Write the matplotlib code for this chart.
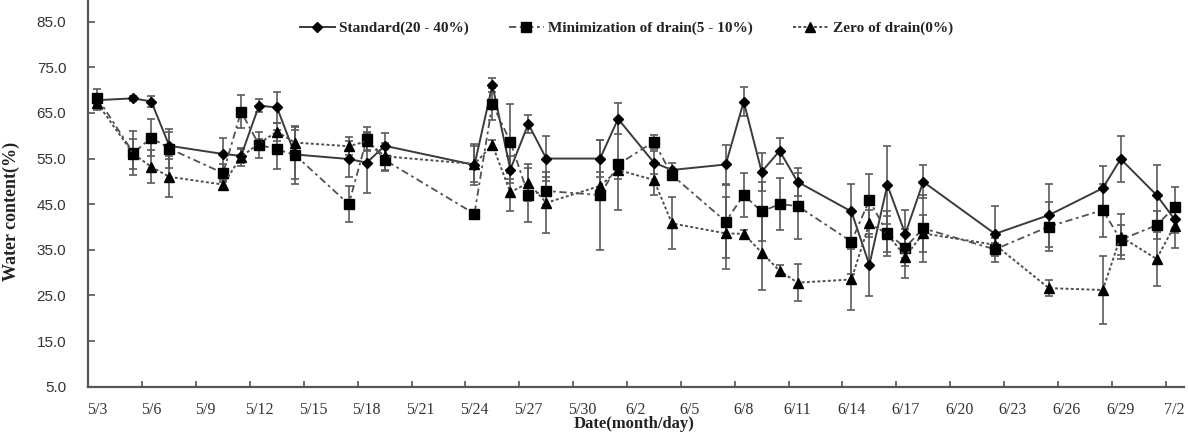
import matplotlib
matplotlib.use('Agg')
import matplotlib.pyplot as plt
import pandas as pd

# ---------------- data ----------------
dates = ["5/3", "5/5", "5/6", "5/7", "5/10", "5/11", "5/12", "5/13", "5/14",
         "5/17", "5/18", "5/19", "5/24", "5/25", "5/26", "5/27", "5/28", "5/31",
         "6/1", "6/3", "6/4", "6/7", "6/8", "6/9", "6/10", "6/11", "6/14",
         "6/15", "6/16", "6/17", "6/18", "6/22", "6/25", "6/28", "6/29", "7/1", "7/2"]

standard = [67.8, 68.2, 67.5, 57.8, 56.0, 55.6, 66.6, 66.2, 55.9, 54.9, 54.1, 57.8,
            53.6, 71.1, 52.6, 62.6, 55.0, 55.0, 63.7, 54.1, 52.5, 53.7, 67.5, 52.1,
            56.7, 49.9, 43.4, 31.7, 49.2, 38.5, 49.9, 38.5, 42.6, 48.5, 54.9, 47.0, 41.7]
standard_err = [1.0, 0.5, 1.3, 3.0, 3.6, 1.5, 1.5, 3.3, 5.3, 3.9, 6.6, 2.8, 4.5, 1.5,
                3.0, 2.0, 5.0, 4.0, 3.4, 2.5, 1.5, 4.2, 3.1, 4.2, 2.8, 3.1, 6.1, 6.8,
                8.6, 5.3, 3.6, 6.2, 6.9, 4.9, 5.1, 6.6, 3.0]

minimization = [68.3, 56.2, 59.6, 57.2, 51.8, 65.3, 58.0, 57.0, 55.8, 45.0, 59.3, 54.7,
                42.9, 67.0, 58.7, 47.0, 47.9, 47.0, 53.7, 58.7, 51.4, 41.2, 47.0, 43.4,
                45.0, 44.6, 36.8, 45.9, 38.6, 35.5, 39.7, 35.1, 40.1, 43.7, 37.2, 40.4, 44.3]
minimization_err = [2.0, 4.8, 4.1, 4.2, 2.0, 3.6, 2.9, 4.2, 6.3, 4.0, 2.7, 2.4, 0.5, 3.5,
                    8.2, 6.0, 3.0, 12.0, 10.0, 1.5, 1.0, 8.0, 4.9, 6.5, 5.7, 7.2, 7.0,
                    5.7, 5.0, 4.0, 7.3, 1.5, 5.3, 5.8, 3.3, 3.0, 4.5]

zero = [67.1, 56.0, 53.2, 51.0, 49.3, 55.4, 58.3, 60.9, 58.5, 57.7, 58.8, 55.5,
        53.8, 58.0, 47.6, 49.7, 45.3, 49.0, 52.5, 50.3, 40.8, 38.6, 38.5, 34.4,
        30.4, 27.8, 28.5, 40.8, 38.5, 33.5, 38.6, 36.1, 26.6, 26.2, 37.9, 33.0, 40.3]
zero_err = [1.5, 3.3, 3.6, 4.5, 1.0, 2.0, 1.0, 2.0, 3.5, 2.0, 2.0, 3.0, 4.0, 1.0,
            4.2, 4.0, 6.7, 3.0, 2.0, 3.3, 5.7, 7.9, 0.8, 8.3, 1.2, 4.0, 6.6, 3.0,
            4.0, 4.7, 4.0, 1.5, 1.8, 7.4, 5.0, 6.0, 5.0]

tick_labels = ["5/3", "5/6", "5/9", "5/12", "5/15", "5/18", "5/21", "5/24", "5/27",
               "5/30", "6/2", "6/5", "6/8", "6/11", "6/14", "6/17", "6/20", "6/23",
               "6/26", "6/29", "7/2"]
y_ticks = [5.0, 15.0, 25.0, 35.0, 45.0, 55.0, 65.0, 75.0, 85.0]

series_names = ["Standard(20 - 40%)", "Minimization of drain(5 - 10%)", "Zero of drain(0%)"]

# ---------------- helpers ----------------
start = pd.Timestamp(2000, 5, 3)


def day_index(s):
    m, d = (int(v) for v in s.split('/'))
    return (pd.Timestamp(2000, m, d) - start).days


x = [day_index(s) for s in dates]
tick_pos = [day_index(s) for s in tick_labels]

W, H = 1188, 433
fig = plt.figure(figsize=(W / 100, H / 100), dpi=100)
ax = fig.add_axes([88.5 / W, 46.3 / H, 1095 / W, 386.7 / H])

serif = 'Liberation Serif'
sans = 'Liberation Sans'

styles = [
    dict(ls='-', marker='D', ms=5.5, color='#3a3a3a', lw=1.4),
    dict(ls=(0, (4, 2, 1.5, 2)), marker='s', ms=6.5, color='#505050', lw=1.3),
    dict(ls=(0, (1.5, 1.2)), marker='^', ms=6.5, color='#505050', lw=1.4),
]
data = [(standard, standard_err), (minimization, minimization_err), (zero, zero_err)]

for (vals, errs) in data:
    ax.errorbar(x, vals, yerr=errs, fmt='none', ecolor='#5a5a5a', elinewidth=1.2,
                capsize=3, capthick=1.2, zorder=2)

handles = []
for (vals, errs), st, name in zip(data, styles, series_names):
    h, = ax.plot(x, vals, linestyle=st['ls'], color=st['color'], lw=st['lw'],
                 marker=st['marker'], ms=st['ms'], mfc='black', mec='black',
                 label=name, zorder=3)
    handles.append(h)

ax.set_xlim(-0.5, 60.5)
ax.set_ylim(5, 89.75)

for sp in ['top', 'right']:
    ax.spines[sp].set_visible(False)
for sp in ['left', 'bottom']:
    ax.spines[sp].set_color('#555555')
    ax.spines[sp].set_linewidth(1.6)

ax.set_yticks(y_ticks)
ax.set_yticklabels([f"{v:.1f}" for v in y_ticks], fontfamily=sans, fontsize=11,
                   color='#333333')
ax.tick_params(axis='y', direction='in', length=5, width=1.2, color='#555555', pad=16)

ax.set_xticks([p - 0.5 for p in tick_pos])
ax.set_xticklabels([])
ax.tick_params(axis='x', which='major', direction='in', length=4.5, width=1.2,
               color='#555555')
ax.set_xticks(tick_pos, minor=True)
ax.set_xticklabels(tick_labels, minor=True, fontfamily=serif, fontsize=11.5,
                   color='#333333')
ax.tick_params(axis='x', which='minor', length=0, pad=11)

fig.text(11 / W, 1 - 211 / H, "Water content(%)", rotation=90, ha='center',
         va='center', fontfamily=serif, fontweight='bold', fontsize=13, color='#222222')
fig.text(634 / W, 1 / H, "Date(month/day)", ha='center', va='bottom',
         fontfamily=serif, fontweight='bold', fontsize=12, color='#222222')

leg = ax.legend(handles=handles, loc='center', bbox_to_anchor=(0.491, 0.927), ncol=3,
                frameon=False, handlelength=2.3, handletextpad=0.3, columnspacing=2.6,
                prop={'family': serif, 'weight': 'bold', 'size': 11})
for t in leg.get_texts():
    t.set_color('#222222')

fig.savefig('out.png', dpi=100)
